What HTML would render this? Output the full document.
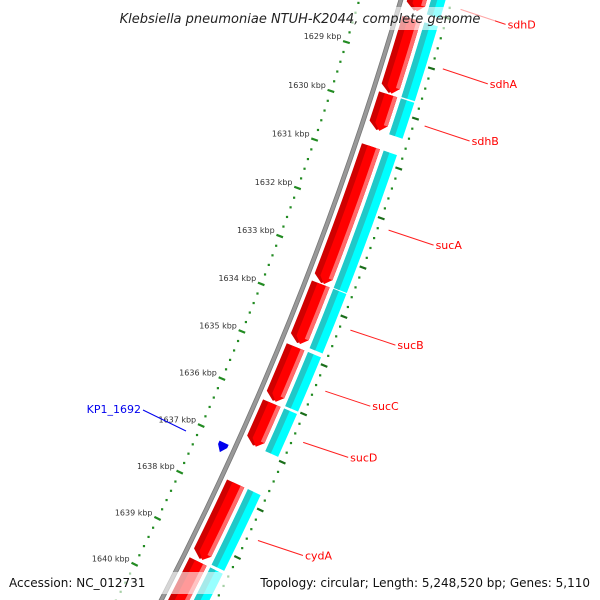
<!DOCTYPE html>
<html><head><meta charset="utf-8"><style>
html,body{margin:0;padding:0;background:#fff;width:600px;height:600px;overflow:hidden}
svg{display:block;overflow:hidden}
text{font-family:"DejaVu Sans","Liberation Sans",sans-serif}
</style></head><body>
<svg id="map" width="600" height="600" viewBox="0 0 600 600" xmlns="http://www.w3.org/2000/svg">
<g id="rulers"></g>
<g id="backbone"></g>
<g id="genes"></g>
<g id="labels"></g>
<rect x="105" y="7" width="390" height="23" fill="#fff" opacity="0.6"/>
<text x="300" y="23" text-anchor="middle" font-size="13" font-style="italic" fill="#222">Klebsiella pneumoniae NTUH-K2044, complete genome</text>
<rect x="0" y="572" width="600" height="22" fill="#fff" opacity="0.6"/>
<text x="9" y="587" font-size="12" fill="#111">Accession: NC_012731</text>
<text x="590" y="587" font-size="12" text-anchor="end" fill="#111">Topology: circular; Length: 5,248,520 bp; Genes: 5,110</text>
</svg>
<script>
const geneNames=["sdhD","sdhA","sdhB","sucA","sucB","sucC","sucD","cydA","cydB"];
const geneStart=[1627.0,1628.2,1629.72,1630.77,1633.58,1634.88,1636.05,1637.74,1639.40];
const geneEnd=[1628.04,1629.69,1630.44,1633.56,1634.8,1636.0,1636.94,1639.34,1641.5];
const labelGenes=["sdhD","sdhA","sdhB","sucA","sucB","sucC","sucD","cydA"];
const tickStartKbp=1626;
const tickEndKbp=1642;
const blueName=["KP1_1692"];
const blueStart=[1637.12];
const blueEnd=[1637.32];

const NS="http://www.w3.org/2000/svg";
const CX=-2825,CY=-940,TH0=0.3003,K=0.01545;
function ang(kbp){return TH0+(kbp-1629)*K;}
function pt(r,kbp){const a=ang(kbp);return [CX+r*Math.cos(a),CY+r*Math.sin(a)];}
function mk(tag,attrs,parent){const e=document.createElementNS(NS,tag);for(const k in attrs)e.setAttribute(k,attrs[k]);parent.appendChild(e);return e;}
function arcBand(r1,r2,k1,k2){
  const a=pt(r1,k1),b=pt(r1,k2),c=pt(r2,k2),d=pt(r2,k1);
  return `M${a} A${r1} ${r1} 0 0 1 ${b} L${c} A${r2} ${r2} 0 0 0 ${d} Z`;
}
function arrow(r1,r2,k1,k2){
  const tip=Math.max(k1,k2-0.13);
  const a=pt(r1,k1),b=pt(r1,tip),m=pt((r1+r2)/2,k2),c=pt(r2,tip),d=pt(r2,k1);
  return `M${a} A${r1} ${r1} 0 0 1 ${b} L${m} L${c} A${r2} ${r2} 0 0 0 ${d} Z`;
}
const rulers=document.getElementById('rulers');
const RL=3320,RR=3409;
for(let i=tickStartKbp*5;i<=tickEndKbp*5;i++){
  const kb=i/5;
  const major=(i%5===0);
  [RL,RR].forEach((r,idx)=>{
    if(major){
      const p1=pt(r-3.5,kb),p2=pt(r+3.5,kb);
      const t=mk('line',{x1:p1[0],y1:p1[1],x2:p2[0],y2:p2[1],stroke:idx?'#1a6e1a':'#228b22','stroke-width':2.2},rulers);
      
      
    }else{
      const p=pt(r,kb);
      const d=mk('rect',{x:p[0]-1,y:p[1]-1,width:2.2,height:2.2,fill:'#228b22'},rulers);
      
      
    }
  });
  if(major){
    const p=pt(RL,kb);
    const t=mk('text',{x:p[0]-5,y:p[1]-3,'text-anchor':'end','font-size':8,fill:'#333'},rulers);
    t.textContent=kb+' kbp';
    
    
  }
}
const bb=document.getElementById('backbone');
const bp=mk('path',{d:arcBand(3358,3362,1626,1642),fill:'#999',stroke:'#777','stroke-width':0.8},bb);



const genes=document.getElementById('genes');
for(let i=0;i<geneNames.length;i++){
  const s=geneStart[i],e=geneEnd[i];
  const g=mk('g',{},genes);
  
  
  mk('path',{d:arcBand(3389,3403,s,e),fill:'#00ffff'},g);
  mk('path',{d:arcBand(3389,3395,s,e),fill:'#20c8c8'},g);
  mk('path',{d:arrow(3366,3385,s,e),fill:'#d00000'},g);
  mk('path',{d:arrow(3372,3385,s,e),fill:'#ff0000'},g);
  mk('path',{d:arcBand(3381,3385,s,Math.max(s,e-0.13)),fill:'#ff6a6a'},g);
}
for(let i=0;i<blueName.length;i++){
  const b=mk('path',{d:arrow(3343,3353,blueStart[i],blueEnd[i]),fill:'#0000ee'},genes);
  
  
  const ln=mk('line',{x1:143,y1:410,x2:186,y2:431,stroke:'#0000ee','stroke-width':1},genes);
  
  
  const t=mk('text',{x:141,y:413,'text-anchor':'end','font-size':11,fill:'#0000ee'},genes);
  t.textContent=blueName[i];
  
  
}
const labels=document.getElementById('labels');
for(const nm of labelGenes){
  const i=geneNames.indexOf(nm);
  const mid=(Math.max(geneStart[i],1627.5)+geneEnd[i])/2;
  const p=pt(3420,mid);
  const q=[p[0]+45,p[1]+15];
  const l=mk('line',{x1:p[0],y1:p[1],x2:q[0],y2:q[1],stroke:'#ff2020','stroke-width':1},labels);
  
  
  const t=mk('text',{x:q[0]+2,y:q[1]+4,'font-size':11,fill:'#ff0000','font-family':'Liberation Sans, sans-serif'},labels);
  t.textContent=nm;
  
  
}
</script>
</body></html>
